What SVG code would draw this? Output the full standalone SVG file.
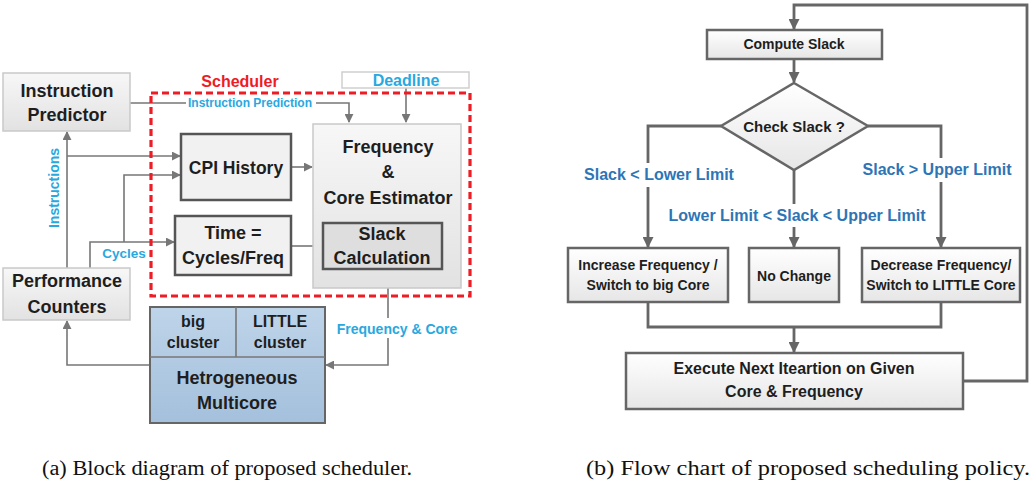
<svg xmlns="http://www.w3.org/2000/svg" width="1033" height="485" viewBox="0 0 1033 485">
<defs>
<linearGradient id="gGray" x1="0" y1="0" x2="0" y2="1"><stop offset="0" stop-color="#f7f7f7"/><stop offset="1" stop-color="#e2e2e2"/></linearGradient>
<linearGradient id="gFlow" x1="0" y1="0" x2="0" y2="1"><stop offset="0" stop-color="#ffffff"/><stop offset="1" stop-color="#e6e6e6"/></linearGradient>
<linearGradient id="gBlue" x1="0" y1="0" x2="0" y2="1"><stop offset="0" stop-color="#bed4e9"/><stop offset="1" stop-color="#a4c0dc"/></linearGradient>
<marker id="aL" viewBox="0 0 10 10" refX="9" refY="5" markerWidth="9" markerHeight="9" markerUnits="userSpaceOnUse" orient="auto"><path d="M0,0 L10,5 L0,10 Z" fill="#777"/></marker>
<marker id="aR" viewBox="0 0 10 10" refX="9" refY="5" markerWidth="11" markerHeight="11" markerUnits="userSpaceOnUse" orient="auto"><path d="M0,0 L10,5 L0,10 Z" fill="#666"/></marker>
</defs>
<style>
text{font-family:"Liberation Sans",Arial,sans-serif;font-weight:bold;fill:#1e1e1e;text-anchor:middle}
.soft{fill:url(#gGray);stroke:#c9c9c9;stroke-width:1.5}
.hard{fill:#f1f1f1;stroke:#555;stroke-width:2.5}
.fbox{fill:url(#gFlow);stroke:#666;stroke-width:2.5}
.ln{fill:none;stroke:#777;stroke-width:1.6}
.fl{fill:none;stroke:#666;stroke-width:2.8}
.cy{fill:#29a8e0}
.fb{fill:#2e75b6}
.cap{font-family:"Liberation Serif","Times New Roman",serif;font-weight:normal;fill:#111;font-size:20px;text-anchor:start}
</style>

<!-- Left panel: block diagram -->
<g id="connectors-a">
  <path class="ln" d="M130,103 H349 V122" marker-end="url(#aL)"/>
  <path class="ln" d="M406,88 V122" marker-end="url(#aL)"/>
  <path class="ln" d="M291,167 H312" marker-end="url(#aL)"/>
  <path class="ln" d="M291,246 H322" marker-end="url(#aL)"/>
  <path class="ln" d="M67,268 V132" marker-end="url(#aL)"/>
  <path class="ln" d="M67,156 H180" marker-end="url(#aL)"/>
  <path class="ln" d="M90,268 V242 H174" marker-end="url(#aL)"/>
  <path class="ln" d="M124,242 V175 H180" marker-end="url(#aL)"/>
  <path class="ln" d="M150,365 H67 V321" marker-end="url(#aL)"/>
  <path class="ln" d="M388,288 V365 H326" marker-end="url(#aL)"/>
  <rect x="186" y="95" width="130" height="16" fill="#fff"/>
  <text class="cy" x="250" y="107" font-size="12">Instruction Prediction</text>
  <rect x="335" y="318" width="125" height="20" fill="#fff"/>
  <text class="cy" x="397" y="334" font-size="14">Frequency &amp; Core</text>
  <text class="cy" x="124" y="258" font-size="13.5">Cycles</text>
  <text class="cy" font-size="14" transform="translate(59,188) rotate(-90)">Instructions</text>
</g>

<g id="scheduler">
  <rect x="151" y="93" width="319" height="203" fill="none" stroke="#ee1c24" stroke-width="3.2" stroke-dasharray="7,4"/>
  <text x="240" y="87" font-size="16" style="fill:#ee1c24">Scheduler</text>
</g>

<g id="instruction-predictor">
  <rect class="soft" x="3" y="73" width="127" height="58"/>
  <text x="67" y="97" font-size="18">Instruction</text>
  <text x="67" y="121" font-size="18">Predictor</text>
</g>

<g id="deadline">
  <rect x="342" y="72" width="127" height="16" fill="#fff" stroke="#cfcfcf" stroke-width="1.5"/>
  <text class="cy" x="406" y="86" font-size="16">Deadline</text>
</g>

<g id="estimator">
  <rect class="soft" x="313" y="124" width="148" height="164"/>
  <text x="388" y="153" font-size="18">Frequency</text>
  <text x="388" y="178" font-size="18">&amp;</text>
  <text x="388" y="204" font-size="18">Core Estimator</text>
</g>

<g id="slack-calc">
  <rect x="323" y="223" width="119" height="46" fill="#dedede" stroke="#555" stroke-width="2.5"/>
  <text x="382" y="240" font-size="18">Slack</text>
  <text x="382" y="264" font-size="18">Calculation</text>
</g>

<g id="cpi-history">
  <rect class="hard" x="181" y="134" width="110" height="66"/>
  <text x="236" y="174" font-size="17.5">CPI History</text>
</g>

<g id="time">
  <rect class="hard" x="175" y="216" width="116" height="59"/>
  <text x="233" y="239" font-size="18">Time =</text>
  <text x="233" y="264" font-size="18">Cycles/Freq</text>
</g>

<g id="perf-counters">
  <rect class="soft" x="3" y="268" width="127" height="52"/>
  <text x="67" y="287" font-size="18">Performance</text>
  <text x="67" y="313" font-size="18">Counters</text>
</g>

<g id="multicore">
  <rect x="150" y="307" width="175" height="116" fill="url(#gBlue)" stroke="#666" stroke-width="2"/>
  <path d="M150,357 H325 M236,307 V357" stroke="#777" stroke-width="1.6" fill="none"/>
  <text x="193" y="327" font-size="16">big</text>
  <text x="193" y="348" font-size="16">cluster</text>
  <text x="280" y="327" font-size="16">LITTLE</text>
  <text x="280" y="348" font-size="16">cluster</text>
  <text x="237" y="384" font-size="18">Hetrogeneous</text>
  <text x="237" y="409" font-size="18">Multicore</text>
</g>

<!-- Right panel: flow chart -->
<g id="connectors-b">
  <path class="fl" d="M963,381 H1027 V5 H794 V29" marker-end="url(#aR)"/>
  <path class="fl" d="M794,59 V82" marker-end="url(#aR)"/>
  <path class="fl" d="M721,126 H648 V247" marker-end="url(#aR)"/>
  <path class="fl" d="M868,126 H941 V247" marker-end="url(#aR)"/>
  <path class="fl" d="M794,170 V247" marker-end="url(#aR)"/>
  <path class="fl" d="M648,302 V327 H941 V302 M794,327 V352" marker-end="url(#aR)"/>
  <rect x="582" y="163" width="154" height="24" fill="#fff"/>
  <text class="fb" x="659" y="180" font-size="16">Slack &lt; Lower Limit</text>
  <rect x="860" y="158" width="154" height="24" fill="#fff"/>
  <text class="fb" x="937" y="175" font-size="16">Slack &gt; Upper Limit</text>
  <rect x="666" y="204" width="264" height="23" fill="#fff"/>
  <text class="fb" x="797" y="221" font-size="16">Lower Limit &lt; Slack &lt; Upper Limit</text>
</g>

<g id="compute-slack">
  <rect class="fbox" x="707" y="30" width="175" height="29"/>
  <text x="794" y="49" font-size="14">Compute Slack</text>
</g>

<g id="check-slack">
  <polygon points="794,83 868,126 794,170 721,126" fill="url(#gFlow)" stroke="#666" stroke-width="2.5"/>
  <text x="794" y="132" font-size="15">Check Slack ?</text>
</g>

<g id="increase">
  <rect class="fbox" x="568" y="248" width="160" height="54"/>
  <text x="648" y="270" font-size="14">Increase Frequency /</text>
  <text x="648" y="290" font-size="14">Switch to big Core</text>
</g>

<g id="no-change">
  <rect class="fbox" x="749" y="248" width="90" height="54"/>
  <text x="794" y="281" font-size="14">No Change</text>
</g>

<g id="decrease">
  <rect class="fbox" x="862" y="248" width="158" height="54"/>
  <text x="941" y="270" font-size="14">Decrease Frequency/</text>
  <text x="941" y="290" font-size="14">Switch to LITTLE Core</text>
</g>

<g id="execute">
  <rect class="fbox" x="626" y="353" width="337" height="56"/>
  <text x="794" y="374" font-size="16">Execute Next Iteartion on Given</text>
  <text x="794" y="397" font-size="16">Core &amp; Frequency</text>
</g>

<g id="captions">
  <text class="cap" x="42" y="475" textLength="370" lengthAdjust="spacingAndGlyphs">(a) Block diagram of proposed scheduler.</text>
  <text class="cap" x="586" y="475" textLength="444" lengthAdjust="spacingAndGlyphs">(b) Flow chart of proposed scheduling policy.</text>
</g>
</svg>
